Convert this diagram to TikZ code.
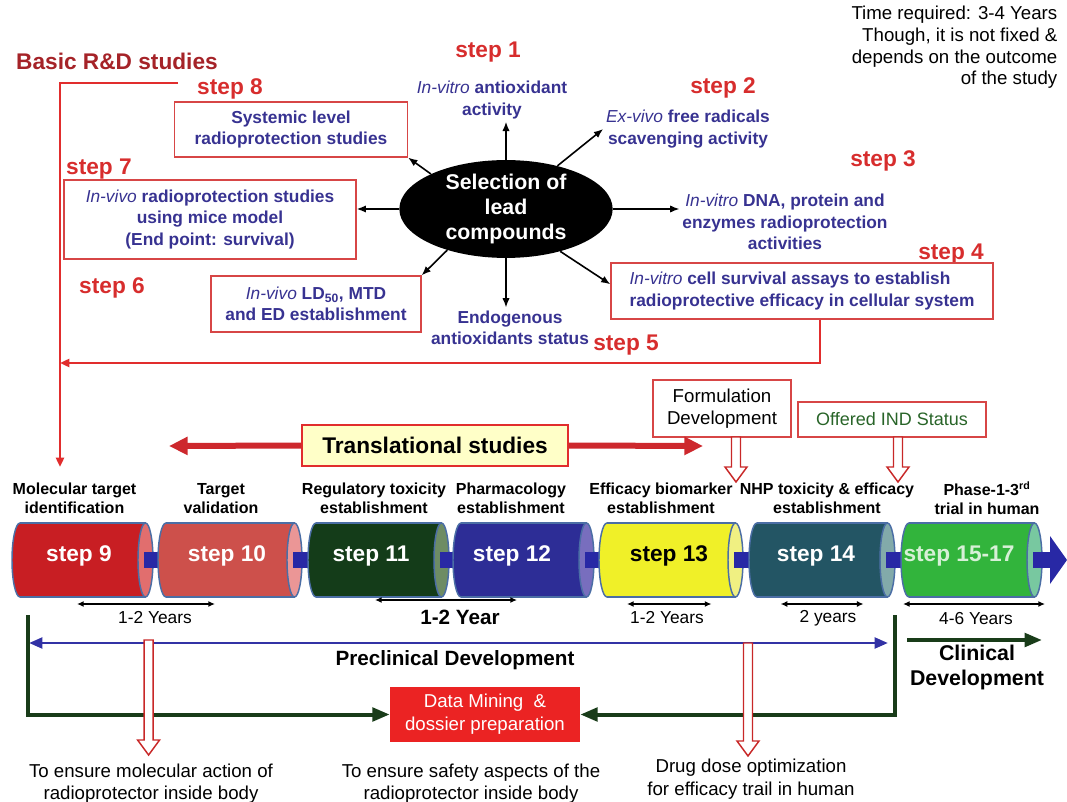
\documentclass[tikz,border=0pt]{standalone}
\usepackage{fontspec}
\setmainfont{Liberation Sans}
\usetikzlibrary{shapes.geometric,arrows.meta}

\definecolor{basiccol}{RGB}{165,35,40}
\definecolor{stepcol}{RGB}{215,45,45}
\definecolor{txtblue}{RGB}{55,50,145}
\definecolor{boxred}{RGB}{215,70,70}
\definecolor{linered}{RGB}{225,45,45}
\definecolor{bigredcol}{RGB}{205,40,45}
\definecolor{hollowcol}{RGB}{200,40,40}
\definecolor{cylborder}{RGB}{75,110,165}
\definecolor{barblue}{RGB}{40,40,165}
\definecolor{dkgreen}{RGB}{25,60,25}
\definecolor{indgreen}{RGB}{40,100,40}
\definecolor{transfill}{RGB}{255,255,200}
\definecolor{dmred}{RGB}{235,35,35}
\definecolor{preblue}{RGB}{50,50,165}
\definecolor{cnine}{RGB}{200,30,35}     \definecolor{knine}{RGB}{225,110,110}
\definecolor{cten}{RGB}{205,80,75}      \definecolor{kten}{RGB}{235,150,150}
\definecolor{celeven}{RGB}{20,60,25}    \definecolor{keleven}{RGB}{110,140,100}
\definecolor{ctwelve}{RGB}{45,45,150}   \definecolor{ktwelve}{RGB}{120,110,190}
\definecolor{cthirteen}{RGB}{240,240,40}\definecolor{kthirteen}{RGB}{240,240,130}
\definecolor{cfourteen}{RGB}{35,85,100} \definecolor{kfourteen}{RGB}{130,170,170}
\definecolor{cfifteen}{RGB}{50,180,60}  \definecolor{kfifteen}{RGB}{120,200,160}
\definecolor{palegreen}{RGB}{215,240,215}

\tikzset{
	steplbl/.style={text=stepcol, font=\fontsize{17}{20}\selectfont\bfseries, inner sep=1pt},
	bluetxt/.style={text=txtblue, font=\fontsize{13}{16}\selectfont\bfseries, align=center, inner sep=2pt},
	redbox/.style={bluetxt, draw=boxred, line width=0.9pt},
	cyllabel/.style={font=\fontsize{12}{14.25}\selectfont\bfseries, align=center, inner sep=1pt},
	yearlbl/.style={font=\fontsize{13}{15}\selectfont, inner sep=1pt},
	bottomtxt/.style={font=\fontsize{14}{17}\selectfont, align=center, inner sep=1pt},
	spoke/.style={-{Latex[length=7pt,width=5.5pt]}, line width=1.2pt},
	yearspan/.style={line width=1.1pt, {Latex[length=5pt,width=4.5pt]}-{Latex[length=5pt,width=4.5pt]}},
	redline/.style={linered, line width=2pt, -{Triangle[length=7pt,width=6pt]}},
	bigred/.style={bigredcol, line width=4.5pt, -{Triangle[length=14pt,width=13pt]}},
	greenarrow/.style={dkgreen, line width=3pt, -{Triangle[length=13pt,width=10pt]}},
	bluearrow/.style={preblue, line width=2.2pt, {Triangle[length=10pt,width=8pt]}-{Triangle[length=10pt,width=8pt]}}
}

% hollow downward arrow: x, top, tip
\newcommand\hollowdown[3]{%
	\filldraw[fill=white, draw=hollowcol, line width=1.1pt]
		({#1-4.5},#2) -- ({#1+4.5},#2) -- ({#1+4.5},{#3-15}) -- ({#1+11},{#3-15})
		-- (#1,#3) -- ({#1-11},{#3-15}) -- ({#1-4.5},{#3-15}) -- cycle;}

\begin{document}
\begin{tikzpicture}[x=0.75pt,y=-0.75pt]
	\useasboundingbox (0,0) rectangle (1067,802);

	% basic R&D part
	\node[text=basiccol, font=\fontsize{17}{20}\selectfont\bfseries] (basic) at (117,61) {Basic R\&D studies};
	\node[align=right, font=\fontsize{14}{16.3}\selectfont, anchor=east] (note) at (1062,47.5)
		{Time required: 3-4 Years\\Though, it is not fixed \&\\depends on the outcome\\of the study};

	\node[ellipse, fill=black, text=white, minimum width=160pt, minimum height=67.5pt, inner sep=0pt,
		align=center, font=\fontsize{16}{18.5}\selectfont\bfseries] (sel) at (506,209)
		{Selection of\\lead\\compounds};

	\node[steplbl] (s1) at (488,52) {step 1};
	\node[steplbl] (s2) at (723,88) {step 2};
	\node[steplbl] (s3) at (883,161) {step 3};
	\node[steplbl] (s4) at (951,254) {step 4};
	\node[steplbl] (s5) at (626,345) {step 5};
	\node[steplbl] (s6) at (112,288) {step 6};
	\node[steplbl] (s7) at (99,169) {step 7};
	\node[steplbl] (s8) at (230,89) {step 8};

	\node[bluetxt] (t1) at (492,100) {{\mdseries\itshape In-vitro} antioxidant\\activity};
	\node[bluetxt] (t2) at (688,129) {{\mdseries\itshape Ex-vivo} free radicals\\scavenging activity};
	\node[bluetxt] (t3) at (785,222) {{\mdseries\itshape In-vitro} DNA, protein and\\enzymes radioprotection\\activities};
	\node[redbox, minimum width=286.5pt, minimum height=42pt, align=left] (b4) at (802,291)
		{{\mdseries\itshape In-vitro} cell survival assays to establish\\radioprotective efficacy in cellular system};
	\node[bluetxt] (t5) at (510,327.5) {Endogenous\\antioxidants status};
	\node[redbox, minimum width=157.5pt, minimum height=42pt] (b6) at (316,304)
		{{\mdseries\itshape In-vivo} LD\textsubscript{50}, MTD\\and ED establishment};
	\node[redbox, minimum width=219pt, minimum height=59.25pt] (b7) at (210,219.5)
		{{\mdseries\itshape In-vivo} radioprotection studies\\using mice model\\(End point: survival)};
	\node[redbox, minimum width=174.75pt, minimum height=41.25pt] (b8) at (291,129.5)
		{Systemic level\\radioprotection studies};

	\draw[spoke] (sel.north) -- (sel.north |- t1.south);
	\draw[spoke] (sel.40) -- (t2.west);
	\draw[spoke] (sel.east) -- (sel.east -| t3.west);
	\draw[spoke] (sel.322) -- ([yshift=5pt]b4.west);
	\draw[spoke] (sel.south) -- (sel.south |- t5.north);
	\draw[spoke] (sel.215) -- (b6.north east);
	\draw[spoke] (sel.west) -- (sel.west -| b7.east);
	\draw[spoke] (sel.155) -- (b8.south east);

	\coordinate (rdstart) at (178,83);
	\coordinate (rdcorner) at (60,83);
	\coordinate (rdend) at (60,467);
	\coordinate (fb) at (820,363);
	\draw[redline] (rdstart) -- (rdcorner) -- (rdend);
	\draw[redline] (b4.south -| fb) -- (fb) -- (fb -| rdcorner);

	% translational part
	\node[draw=boxred, line width=0.9pt, align=center, font=\fontsize{14}{16.5}\selectfont,
		minimum width=103.5pt, minimum height=42.75pt] (form) at (722,408.5) {Formulation\\Development};
	\node[draw=boxred, line width=0.9pt, text=indgreen, font=\fontsize{13.5}{16}\selectfont,
		minimum width=141pt, minimum height=26.25pt] (ind) at (892,419.5) {Offered IND Status};
	\node[draw=linered, fill=transfill, line width=0.9pt, font=\fontsize{17}{20}\selectfont\bfseries,
		minimum width=199.5pt, minimum height=30.75pt] (trans) at (435,445.5) {Translational studies};
	\coordinate (tl) at (169,446);
	\coordinate (tr) at (703,446);
	\draw[bigred] (trans.west) -- (tl);
	\draw[bigred] (trans.east) -- (tr);
	\hollowdown{736}{437}{482}
	\hollowdown{898}{437}{482}

	\node[cyllabel] (lab9) at (74.5,498.5) {Molecular target\\identification};
	\node[cyllabel] (lab10) at (221,498.5) {Target\\validation};
	\node[cyllabel] (lab11) at (374,498.5) {Regulatory toxicity\\establishment};
	\node[cyllabel] (lab12) at (511,498.5) {Pharmacology\\establishment};
	\node[cyllabel] (lab13) at (661,498.5) {Efficacy biomarker\\establishment};
	\node[cyllabel] (lab14) at (827,498.5) {NHP toxicity \& efficacy\\establishment};
	\node[cyllabel] (lab15) at (987,498.5) {Phase-1-3\textsuperscript{rd}\\trial in human};

	% cylinders
	\foreach \xa/\xb/\bd/\cp/\nm/\lx/\tc/\lab in {
			12/153/cnine/knine/cyl9/79/white/step 9,
			158/302/cten/kten/cyl10/227/white/step 10,
			308/449/celeven/keleven/cyl11/371/white/step 11,
			453/594/ctwelve/ktwelve/cyl12/512/white/step 12,
			599/743/cthirteen/kthirteen/cyl13/669/black/step 13,
			749/895/cfourteen/kfourteen/cyl14/816/white/step 14,
			901/1042/cfifteen/kfifteen/cyl15/959/palegreen/step 15-17}{
			\filldraw[fill=\bd, draw=cylborder, line width=1.1pt] ({\xa+8},560) ellipse [x radius=8, y radius=37];
			\fill[\bd] ({\xa+8},523) rectangle ({\xb-7.5},597);
			\draw[cylborder, line width=1.1pt] ({\xa+8},523) -- ({\xb-7.5},523) ({\xa+8},597) -- ({\xb-7.5},597);
			\filldraw[fill=\cp, draw=cylborder, line width=1.1pt] ({\xb-7.5},560) ellipse [x radius=7.5, y radius=37];
			\fill[barblue] ({\xb-9},552) rectangle ({\xb+10},568);
			\node[text=\tc, font=\fontsize{17}{20}\selectfont\bfseries] (\nm) at (\lx,556) {\lab};
		}
	\fill[barblue] (1050,536) -- (1067,560) -- (1050,584) -- cycle;

	% time spans
	\foreach \xa/\xb/\yy in {77/215/604, 375/517/600, 627/711.5/604, 780.6/863.6/604, 903/1045/604}{
			\draw[yearspan] (\xa,\yy) -- (\xb,\yy);
		}
	\node[yearlbl] (y1) at (155,618) {1-2 Years};
	\node[font=\fontsize{15.5}{18}\selectfont\bfseries, inner sep=1pt] (y2) at (460,617) {1-2 Year};
	\node[yearlbl] (y3) at (667,618) {1-2 Years};
	\node[yearlbl] (y4) at (828,618) {2 years};
	\node[yearlbl] (y5) at (976,619) {4-6 Years};

	% development part
	\coordinate (pl) at (29,643);
	\coordinate (pr) at (888,643);
	\draw[bluearrow] (pl) -- (pr);
	\node[font=\fontsize{15.5}{18}\selectfont\bfseries, inner sep=1pt] (pre) at (455,660) {Preclinical Development};
	\coordinate (cl) at (907,640);
	\coordinate (cr) at (1042,640);
	\draw[greenarrow] (cl) -- (cr);
	\node[align=center, font=\fontsize{16}{19}\selectfont\bfseries, inner sep=1pt] (clin) at (977,667.5) {Clinical\\Development};

	\node[fill=dmred, text=white, align=center, font=\fontsize{14}{17}\selectfont,
		minimum width=142.5pt, minimum height=41.25pt] (dm) at (485,714.5) {Data Mining\ \ \&\\dossier preparation};
	\coordinate (gl) at (27.6,615);
	\coordinate (gr) at (894.7,615);
	\draw[greenarrow] (gl) |- (dm.west);
	\draw[greenarrow] (gr) |- (dm.east);

	\hollowdown{148.6}{640}{755}
	\hollowdown{748}{643}{756}

	\node[bottomtxt] (bt1) at (151,783.5) {To ensure molecular action of\\radioprotector inside body};
	\node[bottomtxt] (bt2) at (471,783.5) {To ensure safety aspects of the\\radioprotector inside body};
	\node[bottomtxt] (bt3) at (751,779) {Drug dose optimization\\for efficacy trail in human};
\end{tikzpicture}
\end{document}
